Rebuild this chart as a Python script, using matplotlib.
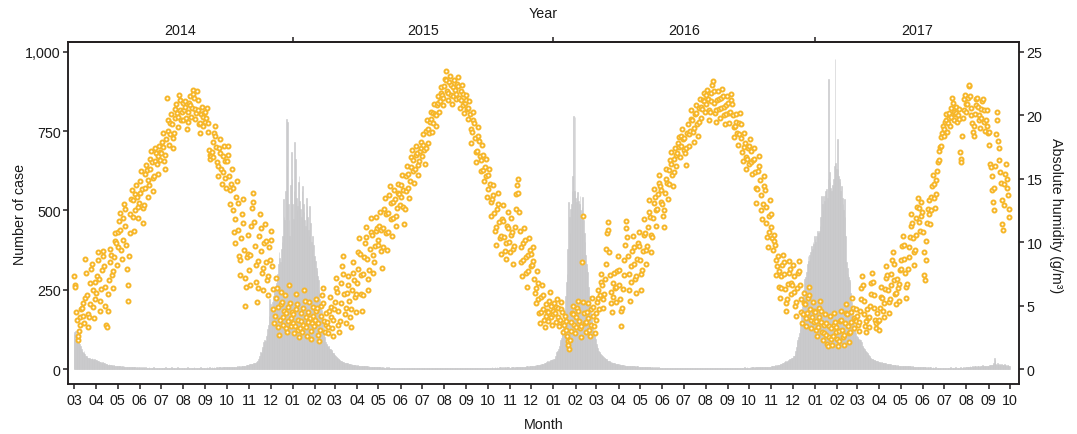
import numpy as np
import pandas as pd
import matplotlib
matplotlib.use('Agg')
from matplotlib import pyplot as plt
import matplotlib.dates as mdates

# Daily case counts, one list per month (2014 starts in March, 2017 ends in September)
cases_2014 = [
    [110, 116, 120, 105, 112, 98, 95, 88, 80, 72, 64, 58, 55, 52, 56, 48, 42, 40, 38, 36, 35, 33, 36, 32, 30, 34, 31, 29, 32, 30, 28],
    [27, 25, 24, 26, 22, 21, 23, 20, 19, 21, 18, 17, 19, 16, 15, 17, 14, 13, 15, 13, 12, 14, 12, 11, 12, 10, 11, 10, 9, 10],
    [9, 10, 8, 9, 8, 7, 9, 8, 7, 8, 7, 6, 7, 7, 6, 7, 6, 5, 6, 6, 5, 6, 5, 5, 6, 5, 4, 5, 5, 4, 5],
    [5, 4, 5, 4, 4, 5, 4, 4, 5, 4, 4, 3, 4, 5, 4, 4, 3, 4, 4, 5, 4, 3, 4, 4, 3, 4, 4, 3, 4, 4],
    [4, 3, 4, 4, 3, 4, 5, 4, 3, 4, 4, 3, 4, 4, 5, 4, 3, 4, 3, 4, 4, 3, 4, 5, 4, 3, 4, 4, 3, 4, 4],
    [3, 4, 4, 3, 4, 4, 5, 4, 3, 4, 4, 3, 4, 3, 4, 5, 4, 4, 3, 4, 4, 3, 4, 4, 5, 4, 3, 4, 4, 3, 4],
    [4, 4, 5, 4, 3, 4, 5, 4, 4, 5, 4, 4, 5, 4, 4, 5, 5, 4, 5, 4, 5, 5, 4, 5, 6, 5, 5, 6, 5, 5],
    [5, 6, 5, 6, 6, 5, 6, 7, 6, 6, 7, 6, 7, 7, 6, 8, 7, 8, 8, 7, 9, 8, 9, 10, 9, 11, 10, 12, 13, 12, 14],
    [14, 15, 16, 15, 17, 16, 18, 17, 20, 19, 22, 24, 26, 30, 36, 42, 54, 50, 62, 70, 85, 78, 92, 88, 104, 110, 125, 140, 168, 221],
    [205, 195, 190, 210, 230, 240, 252, 245, 270, 285, 300, 330, 369, 350, 337, 380, 400, 420, 536, 480, 470, 560, 789, 640, 778, 520, 470, 420, 580, 684, 600],
]
cases_2015 = [
    [520, 473, 560, 716, 662, 540, 500, 514, 590, 609, 530, 505, 480, 560, 577, 520, 495, 470, 450, 540, 514, 480, 440, 420, 514, 460, 400, 380, 420, 390, 357],
    [357, 340, 320, 310, 293, 280, 250, 221, 200, 185, 170, 148, 130, 115, 100, 85, 80, 75, 70, 72, 66, 64, 63, 60, 56, 52, 50, 48],
    [45, 41, 38, 36, 34, 32, 30, 28, 26, 24, 22, 23, 21, 20, 19, 20, 18, 17, 18, 16, 15, 16, 15, 14, 15, 13, 14, 12, 13, 12, 11],
    [11, 12, 10, 11, 10, 9, 10, 9, 9, 8, 9, 8, 8, 9, 7, 8, 7, 8, 7, 7, 6, 7, 6, 7, 6, 6, 5, 6, 6, 5],
    [5, 6, 5, 5, 4, 5, 5, 4, 5, 4, 4, 5, 4, 4, 5, 4, 4, 3, 4, 4, 3, 4, 4, 3, 4, 3, 4, 3, 3, 4, 3],
    [4, 3, 4, 4, 3, 4, 3, 4, 4, 3, 4, 4, 3, 4, 3, 4, 4, 3, 4, 4, 3, 4, 3, 4, 4, 3, 4, 4, 3, 4],
    [3, 4, 4, 3, 4, 3, 4, 4, 3, 4, 4, 3, 4, 3, 4, 4, 3, 4, 4, 3, 4, 3, 4, 4, 3, 4, 4, 3, 4, 3, 4],
    [4, 3, 4, 4, 3, 4, 4, 3, 4, 3, 4, 4, 3, 4, 4, 3, 4, 3, 4, 4, 3, 4, 4, 3, 4, 3, 4, 4, 3, 4, 4],
    [3, 4, 4, 3, 4, 4, 3, 4, 4, 4, 3, 4, 4, 3, 4, 4, 4, 3, 4, 4, 4, 3, 4, 4, 4, 3, 4, 4, 4, 4],
    [4, 4, 3, 4, 4, 4, 5, 4, 4, 4, 5, 4, 4, 5, 4, 4, 5, 4, 5, 4, 4, 5, 4, 5, 5, 4, 5, 4, 5, 5, 4],
    [4, 4, 5, 4, 5, 5, 4, 5, 5, 6, 5, 5, 6, 5, 6, 6, 5, 6, 7, 6, 7, 6, 7, 8, 7, 8, 7, 8, 9, 8],
    [9, 10, 9, 11, 10, 12, 11, 12, 13, 12, 14, 13, 15, 14, 16, 15, 17, 16, 18, 20, 19, 22, 21, 24, 23, 26, 25, 28, 27, 30, 29],
]
cases_2016 = [
    [32, 30, 36, 42, 54, 50, 58, 64, 72, 85, 90, 98, 110, 125, 148, 165, 190, 230, 274, 300, 380, 527, 480, 430, 505, 520, 560, 610, 798, 560, 795],
    [540, 527, 545, 558, 530, 520, 546, 500, 480, 510, 543, 470, 430, 400, 360, 330, 320, 306, 260, 230, 211, 190, 170, 148, 130, 115, 105, 100, 95],
    [80, 72, 65, 58, 54, 50, 46, 44, 42, 40, 38, 36, 34, 32, 30, 28, 26, 25, 24, 22, 21, 20, 22, 19, 18, 19, 17, 16, 17, 15, 16],
    [15, 14, 15, 13, 14, 12, 13, 12, 11, 12, 11, 10, 11, 10, 10, 9, 10, 9, 9, 8, 9, 8, 8, 9, 7, 8, 7, 8, 7, 7],
    [7, 6, 7, 6, 6, 7, 5, 6, 6, 5, 6, 5, 5, 6, 5, 5, 4, 5, 5, 4, 5, 4, 4, 5, 4, 4, 5, 4, 4, 4, 4],
    [4, 4, 3, 4, 4, 3, 4, 4, 3, 4, 3, 4, 4, 3, 4, 4, 3, 4, 3, 4, 4, 3, 4, 4, 3, 4, 3, 4, 4, 3],
    [4, 3, 4, 4, 3, 4, 4, 3, 4, 3, 4, 4, 3, 4, 4, 3, 4, 3, 4, 4, 3, 4, 4, 3, 4, 4, 3, 4, 3, 4, 4],
    [3, 4, 4, 3, 4, 3, 4, 4, 3, 4, 4, 3, 4, 3, 4, 4, 3, 4, 4, 3, 4, 3, 4, 4, 3, 4, 4, 3, 4, 4, 3],
    [4, 4, 3, 4, 4, 4, 3, 4, 4, 4, 3, 4, 4, 4, 3, 4, 4, 4, 4, 3, 4, 4, 4, 5, 4, 4, 4, 5, 4, 4],
    [4, 5, 4, 5, 4, 5, 5, 4, 5, 5, 5, 4, 5, 5, 6, 5, 5, 6, 5, 6, 6, 5, 6, 6, 7, 6, 6, 7, 7, 6, 7],
    [8, 9, 10, 9, 11, 10, 12, 11, 13, 12, 14, 13, 15, 16, 15, 17, 18, 20, 22, 21, 24, 23, 26, 25, 28, 30, 29, 32, 34, 33],
    [36, 40, 41, 48, 56, 70, 85, 92, 100, 112, 126, 150, 189, 200, 220, 250, 284, 270, 290, 306, 330, 357, 340, 360, 347, 370, 388, 380, 400, 395, 420],
]
cases_2017 = [
    [410, 400, 420, 435, 415, 430, 435, 450, 480, 546, 520, 500, 546, 530, 550, 560, 568, 540, 600, 915, 620, 590, 570, 560, 580, 577, 600, 640, 978, 650, 631],
    [725, 631, 610, 600, 590, 560, 577, 540, 520, 500, 536, 480, 420, 337, 320, 300, 290, 280, 274, 240, 210, 190, 167, 150, 135, 125, 115, 104],
    [100, 98, 95, 92, 96, 90, 85, 73, 70, 66, 63, 60, 58, 54, 50, 47, 44, 41, 38, 36, 32, 32, 30, 29, 28, 27, 26, 25, 24, 23, 22],
    [22, 21, 20, 21, 19, 20, 18, 19, 17, 18, 16, 17, 16, 15, 16, 14, 15, 14, 13, 14, 13, 12, 13, 12, 11, 12, 11, 11, 10, 11],
    [10, 10, 9, 10, 9, 9, 10, 8, 9, 8, 8, 9, 8, 7, 8, 7, 8, 7, 7, 6, 7, 6, 7, 6, 6, 7, 6, 5, 6, 5, 6],
    [5, 5, 6, 5, 5, 4, 5, 5, 4, 5, 4, 5, 4, 4, 5, 4, 4, 4, 5, 4, 4, 3, 4, 4, 4, 3, 4, 4, 3, 4],
    [4, 4, 3, 4, 4, 4, 3, 4, 4, 5, 4, 4, 4, 3, 4, 4, 5, 4, 4, 4, 3, 4, 4, 5, 4, 4, 4, 5, 4, 4, 5],
    [5, 6, 5, 7, 6, 8, 6, 7, 9, 7, 6, 8, 10, 8, 7, 9, 11, 8, 7, 9, 8, 10, 12, 9, 8, 10, 9, 11, 9, 8, 10],
    [10, 12, 11, 13, 14, 12, 15, 18, 35, 28, 16, 14, 18, 15, 13, 16, 14, 12, 15, 13, 12, 14, 16, 13, 12, 11, 13, 12, 11, 10],
]

# Daily absolute humidity (g/m3), same month layout
hum_2014 = [
    [7.3, 6.6, 6.5, 4.5, 3.9, 2.3, 2.6, 3.0, 3.5, 4.1, 4.7, 4.8, 5.2, 4.2, 3.6, 5.6, 8.7, 7.6, 5.8, 4.3, 3.3, 4.1, 5.1, 6.8, 7.9, 8.3, 6.2, 4.9, 4.0, 5.5, 6.9],
    [6.0, 7.3, 8.6, 9.2, 7.1, 5.4, 4.6, 6.3, 7.8, 8.9, 9.3, 8.1, 6.5, 5.0, 3.5, 3.3, 4.6, 5.9, 7.0, 8.4, 9.5, 9.0, 7.4, 6.4, 7.7, 8.8, 10.1, 10.7, 9.9, 8.2],
    [9.6, 10.8, 11.7, 12.3, 11.0, 9.4, 8.7, 10.2, 11.9, 13.0, 12.6, 11.3, 9.8, 7.9, 5.4, 6.6, 8.9, 10.7, 12.2, 13.4, 14.1, 13.3, 12.0, 10.9, 12.5, 13.8, 14.5, 13.6, 12.8, 11.9, 13.1],
    [13.9, 14.8, 15.6, 14.2, 12.7, 11.5, 12.9, 14.3, 15.4, 16.1, 15.7, 14.9, 13.6, 14.5, 15.8, 16.6, 17.2, 16.3, 15.1, 14.0, 15.2, 16.4, 17.4, 17.0, 16.2, 15.4, 16.8, 17.6, 17.1, 16.5],
    [17.0, 17.9, 18.6, 17.5, 16.4, 15.8, 16.9, 18.1, 21.4, 19.6, 18.8, 17.7, 18.5, 19.4, 20.1, 19.3, 18.2, 17.4, 18.6, 19.8, 20.5, 20.9, 20.2, 19.1, 19.9, 21.6, 21.2, 20.4, 19.6, 20.3, 21.0],
    [19.6, 20.4, 21.1, 20.7, 19.8, 18.9, 19.5, 20.3, 21.0, 21.5, 20.8, 19.9, 20.6, 22.0, 21.7, 21.4, 20.5, 19.7, 20.2, 21.9, 21.2, 20.4, 19.3, 18.6, 19.4, 20.1, 20.7, 19.9, 19.2, 20.2, 19.5],
    [20.3, 19.8, 20.6, 19.4, 18.7, 17.3, 16.9, 16.6, 16.8, 17.1, 16.7, 17.9, 18.6, 19.2, 18.4, 17.5, 16.3, 15.2, 16.0, 17.4, 18.1, 17.0, 15.8, 14.6, 15.5, 16.8, 17.6, 16.4, 15.1, 14.3],
    [16.4, 17.6, 16.9, 15.2, 14.1, 13.0, 14.6, 15.8, 14.3, 12.5, 10.8, 9.9, 11.8, 13.6, 14.8, 13.1, 11.0, 8.9, 7.4, 8.6, 10.3, 12.2, 13.4, 11.5, 9.4, 7.2, 5.0, 6.5, 8.8, 10.6, 9.1],
    [7.8, 6.6, 9.0, 11.3, 12.7, 13.9, 13.2, 11.6, 9.7, 8.2, 6.9, 5.3, 6.4, 8.5, 10.5, 12.2, 11.1, 9.3, 7.6, 6.2, 8.0, 9.9, 11.4, 10.1, 8.4, 7.0, 5.8, 7.3, 9.6, 8.6],
    [10.9, 10.2, 8.1, 6.3, 4.7, 3.6, 4.2, 5.6, 7.2, 6.4, 4.9, 3.3, 2.7, 3.9, 5.1, 6.1, 5.3, 4.1, 3.5, 4.6, 5.8, 4.4, 3.2, 2.9, 3.8, 4.9, 6.6, 5.2, 4.0, 3.4, 4.5],
]
hum_2015 = [
    [4.3, 3.6, 2.8, 3.4, 4.7, 5.9, 5.1, 3.9, 3.1, 2.5, 3.2, 4.4, 3.8, 2.9, 3.5, 4.8, 6.2, 5.4, 4.1, 3.3, 2.6, 3.7, 4.5, 5.3, 4.0, 3.0, 2.4, 3.6, 4.9, 4.2, 3.4],
    [3.9, 4.6, 5.5, 4.8, 3.6, 2.7, 2.2, 3.1, 4.2, 5.0, 5.8, 6.4, 5.2, 3.8, 2.9, 3.5, 4.4, 3.7, 2.8, 3.3, 4.6, 5.7, 4.9, 4.1, 3.2, 2.6, 3.9, 4.7],
    [5.3, 6.4, 7.2, 6.1, 4.6, 3.5, 2.9, 3.8, 5.2, 6.8, 8.1, 8.9, 7.5, 5.9, 4.3, 3.6, 4.8, 6.0, 7.3, 6.6, 5.4, 4.1, 3.3, 4.7, 6.2, 7.6, 8.4, 7.0, 5.7, 4.5, 5.9],
    [6.8, 7.9, 9.2, 10.3, 9.1, 7.4, 5.9, 4.6, 5.8, 7.5, 8.8, 9.9, 11.2, 10.4, 8.7, 7.1, 6.2, 7.8, 9.5, 10.8, 11.9, 10.6, 9.0, 7.6, 8.4, 9.7, 10.9, 12.0, 11.1, 9.8],
    [10.2, 11.3, 12.4, 11.0, 9.3, 8.0, 9.6, 11.1, 12.6, 13.5, 12.2, 10.7, 9.4, 10.8, 12.3, 13.7, 14.4, 13.1, 11.8, 10.5, 11.9, 13.2, 14.1, 13.4, 12.1, 11.3, 12.7, 13.9, 14.6, 13.8, 12.9],
    [13.6, 14.5, 15.3, 14.1, 12.8, 11.4, 12.6, 14.0, 15.2, 16.0, 15.4, 14.3, 13.5, 14.8, 15.9, 16.7, 17.3, 16.5, 15.6, 14.7, 15.8, 16.9, 17.6, 17.0, 16.1, 15.3, 16.4, 17.2, 17.9, 17.4],
    [16.8, 17.7, 18.5, 17.3, 16.2, 17.4, 18.8, 19.6, 18.9, 17.8, 18.6, 19.5, 20.3, 19.7, 18.7, 19.4, 20.2, 20.9, 20.1, 19.2, 20.0, 20.8, 21.5, 21.0, 20.3, 21.1, 21.8, 22.2, 21.6, 20.8, 21.4],
    [22.3, 22.9, 23.5, 22.8, 21.9, 21.2, 21.8, 22.6, 23.1, 22.4, 21.6, 20.9, 21.5, 22.2, 22.8, 22.0, 21.3, 21.7, 22.5, 23.0, 22.3, 21.4, 20.6, 21.2, 21.9, 22.4, 21.7, 20.8, 20.2, 21.0, 21.6],
    [21.2, 20.5, 19.7, 20.6, 21.1, 20.1, 18.9, 17.8, 18.7, 19.6, 20.3, 19.4, 18.2, 17.1, 16.3, 17.2, 18.4, 19.1, 18.0, 16.8, 15.6, 16.5, 17.7, 16.9, 15.7, 14.8, 15.9, 16.6, 15.2, 13.6],
    [14.2, 15.3, 15.8, 14.6, 13.2, 12.1, 13.4, 14.5, 13.7, 12.3, 10.9, 9.8, 11.2, 12.6, 13.9, 13.0, 11.6, 10.3, 9.1, 10.5, 11.8, 12.9, 11.7, 10.4, 9.3, 8.7, 9.9, 11.3, 12.4, 11.1, 10.0],
    [9.2, 10.6, 11.9, 10.8, 9.5, 8.3, 9.7, 11.2, 12.6, 13.8, 14.5, 15.0, 13.9, 12.4, 10.9, 9.6, 8.4, 7.3, 8.6, 9.9, 11.1, 10.2, 8.8, 7.6, 6.5, 7.7, 9.0, 10.3, 9.4, 8.1],
    [9.1, 8.2, 9.6, 8.5, 7.1, 6.0, 5.2, 6.4, 7.7, 6.8, 5.5, 4.4, 3.6, 4.5, 5.7, 6.6, 5.8, 4.7, 3.9, 3.3, 4.2, 5.1, 4.6, 3.8, 4.5, 5.4, 6.1, 5.0, 4.1, 3.5, 4.3],
]
hum_2016 = [
    [4.6, 5.2, 4.4, 3.7, 4.9, 5.5, 4.8, 4.1, 3.4, 3.9, 4.7, 5.3, 4.5, 3.6, 2.9, 3.5, 4.2, 3.8, 3.1, 2.6, 2.2, 1.9, 1.6, 2.3, 3.0, 3.7, 4.4, 5.0, 4.3, 3.5, 2.8],
    [3.3, 4.1, 4.8, 5.4, 4.6, 3.8, 3.2, 2.5, 3.4, 8.4, 12.1, 5.3, 4.4, 3.6, 2.9, 3.7, 4.5, 5.2, 4.0, 3.1, 2.6, 3.5, 4.7, 5.6, 4.9, 4.2, 3.4, 2.8, 3.9],
    [4.4, 5.3, 6.2, 5.6, 4.7, 5.8, 6.9, 7.5, 6.6, 5.5, 4.8, 5.9, 7.1, 8.3, 9.5, 10.7, 11.6, 11.0, 9.2, 7.4, 6.1, 5.2, 4.5, 5.7, 6.8, 7.6, 6.4, 5.3, 6.5, 7.7, 8.9],
    [7.8, 6.6, 5.5, 4.6, 3.4, 4.8, 6.3, 7.4, 8.6, 9.8, 11.1, 11.7, 10.4, 8.9, 7.5, 6.2, 5.4, 6.9, 8.1, 9.3, 10.5, 9.6, 8.3, 7.1, 6.0, 7.3, 8.7, 9.9, 10.8, 9.7],
    [8.6, 7.5, 6.2, 7.8, 9.3, 10.6, 11.8, 10.7, 9.4, 8.3, 9.7, 11.2, 12.4, 13.3, 12.0, 10.6, 9.2, 10.4, 11.9, 13.1, 14.2, 13.6, 12.5, 11.3, 12.6, 13.8, 14.7, 15.3, 14.4, 13.2, 14.1],
    [13.0, 12.1, 11.2, 12.5, 13.9, 15.0, 15.8, 14.7, 13.4, 14.6, 15.7, 16.5, 17.1, 16.2, 15.3, 14.4, 15.5, 16.6, 17.4, 16.9, 16.0, 17.0, 17.8, 18.3, 17.5, 16.7, 17.6, 18.4, 18.9, 18.1],
    [17.3, 18.2, 17.0, 16.1, 17.4, 18.6, 19.3, 18.5, 17.6, 18.8, 19.7, 20.4, 19.6, 18.7, 17.9, 19.0, 20.1, 20.8, 20.2, 19.3, 18.4, 19.5, 20.6, 21.3, 20.7, 19.8, 20.5, 21.2, 21.8, 21.1, 20.3],
    [20.9, 21.6, 22.0, 21.3, 20.4, 19.6, 20.3, 21.1, 21.8, 22.4, 22.7, 21.9, 21.0, 20.2, 19.5, 20.4, 21.2, 21.9, 21.3, 20.5, 19.8, 20.6, 21.4, 22.1, 21.5, 20.7, 20.0, 19.3, 20.1, 20.8, 21.5],
    [21.0, 20.2, 19.4, 20.3, 21.2, 21.7, 20.9, 20.0, 19.1, 18.3, 19.2, 20.1, 19.5, 18.6, 17.7, 18.5, 19.4, 20.2, 19.3, 18.2, 17.1, 16.4, 17.5, 18.6, 17.8, 16.7, 15.8, 16.6, 17.4, 16.2],
    [17.6, 18.1, 17.2, 16.3, 15.4, 16.5, 17.4, 16.6, 15.5, 14.3, 13.1, 14.2, 15.6, 16.8, 16.0, 14.9, 13.7, 12.5, 11.8, 13.0, 14.4, 15.2, 14.1, 12.8, 11.5, 10.4, 9.6, 10.8, 12.1, 13.3, 12.2],
    [11.2, 10.3, 9.4, 10.1, 10.6, 9.8, 8.6, 7.4, 8.1, 8.9, 7.7, 6.5, 5.6, 6.4, 7.3, 8.2, 9.0, 8.4, 7.5, 6.3, 5.2, 4.6, 5.5, 6.7, 7.6, 8.5, 7.9, 6.8, 5.9, 6.6],
    [8.2, 7.3, 6.1, 5.0, 4.2, 5.3, 6.4, 7.6, 8.5, 7.7, 6.6, 5.5, 4.5, 3.6, 4.3, 5.2, 6.0, 5.1, 4.0, 3.4, 4.4, 5.6, 6.5, 5.8, 4.7, 3.9, 3.2, 4.1, 5.3, 4.6, 3.7],
]
hum_2017 = [
    [4.5, 3.8, 3.1, 2.6, 3.3, 4.1, 4.8, 5.4, 4.6, 3.7, 2.9, 2.3, 2.8, 3.5, 4.3, 3.6, 2.7, 2.0, 1.8, 2.5, 3.4, 4.2, 3.2, 2.4, 1.9, 2.6, 3.5, 4.4, 3.7, 2.9, 3.3],
    [2.4, 1.8, 2.2, 3.0, 3.8, 4.6, 3.9, 3.1, 2.5, 1.9, 2.7, 3.6, 4.4, 5.1, 4.3, 3.4, 2.8, 2.1, 2.9, 3.7, 4.5, 5.6, 4.8, 4.0, 3.2, 3.9, 4.7, 3.8],
    [4.2, 3.5, 3.0, 3.7, 4.6, 5.5, 6.4, 7.3, 6.6, 5.4, 4.3, 3.4, 2.9, 3.8, 4.7, 4.0, 3.3, 4.1, 5.0, 5.9, 6.8, 7.6, 6.9, 5.8, 4.8, 3.9, 3.2, 3.6, 4.4, 3.8, 3.1],
    [3.9, 4.8, 5.7, 6.5, 5.6, 4.6, 4.1, 5.2, 6.3, 7.2, 8.1, 7.4, 6.2, 5.3, 4.4, 5.5, 6.6, 7.5, 8.6, 9.2, 8.3, 7.0, 5.9, 5.1, 6.0, 7.1, 6.4, 5.4, 6.7, 7.8],
    [7.9, 8.6, 9.7, 10.5, 9.8, 8.7, 7.6, 6.5, 5.6, 6.7, 7.9, 8.8, 9.6, 10.4, 11.3, 12.2, 11.5, 10.3, 9.2, 8.2, 9.4, 10.6, 11.9, 12.8, 13.5, 12.7, 11.6, 10.9, 12.1, 13.2, 12.4],
    [10.8, 9.2, 7.4, 7.0, 8.6, 10.1, 11.5, 12.6, 13.3, 12.2, 11.4, 12.5, 13.6, 14.4, 15.3, 14.6, 13.5, 12.7, 13.8, 14.9, 15.6, 16.3, 17.2, 16.5, 17.5, 18.3, 17.6, 18.6, 19.2, 18.4],
    [18.9, 19.5, 20.1, 19.6, 18.7, 19.4, 20.2, 19.8, 19.2, 19.9, 20.6, 21.4, 21.0, 20.3, 19.6, 20.1, 20.7, 20.2, 19.5, 20.0, 20.5, 19.7, 17.1, 16.6, 16.3, 18.4, 19.8, 20.4, 21.3, 21.6, 20.9],
    [20.3, 20.9, 21.4, 22.3, 22.4, 21.5, 20.6, 20.0, 19.4, 18.7, 18.4, 19.2, 20.1, 20.8, 21.3, 21.4, 20.7, 20.0, 19.6, 19.0, 19.8, 20.5, 21.1, 21.3, 20.4, 19.5, 18.8, 19.6, 20.4, 19.2, 18.6],
    [18.7, 17.7, 16.2, 15.9, 15.2, 14.1, 13.2, 12.5, 14.3, 16.0, 18.5, 20.3, 19.6, 18.0, 17.4, 16.5, 15.5, 14.7, 13.3, 11.4, 11.0, 12.9, 14.6, 15.4, 16.2, 15.0, 14.3, 13.7, 12.6, 12.0],
]

year_labels = ['2014', '2015', '2016', '2017']


def to_daily(year, first_month, months):
    # one list per month -> (dates, values), each list starts on the 1st
    dates, vals = [], []
    for i, m in enumerate(months):
        start = pd.Timestamp(year=year, month=first_month + i, day=1)
        m = m[:start.days_in_month]
        dates.extend(start + pd.to_timedelta(np.arange(len(m)), unit='D'))
        vals.extend(m)
    return dates, vals


case_dates, case_vals = [], []
hum_dates, hum_vals = [], []
for yr, fm, c, h in [(2014, 3, cases_2014, hum_2014), (2015, 1, cases_2015, hum_2015),
                     (2016, 1, cases_2016, hum_2016), (2017, 1, cases_2017, hum_2017)]:
    d, v = to_daily(yr, fm, c)
    case_dates += d
    case_vals += v
    d, v = to_daily(yr, fm, h)
    hum_dates += d
    hum_vals += v

plt.rcParams['font.family'] = ['Liberation Sans', 'DejaVu Sans']
plt.rcParams['font.size'] = 10.3
ink = '#231f20'
bar_grey = '#c8c8ca'

fig = plt.figure(figsize=(10.77, 4.35), dpi=100)
ax = fig.add_axes([68 / 1077, 1 - 385 / 435, 951.3 / 1077, 342 / 435])

# daily bars; edge in the same grey so neighbouring days close up
ax.bar(case_dates, case_vals, width=1.0, color=bar_grey, edgecolor=bar_grey,
       linewidth=0.4, zorder=1)

x0 = mdates.date2num(pd.Timestamp('2014-03-01')) - 8.4
x1 = mdates.date2num(pd.Timestamp('2017-10-01')) + 12.9
ax.set_xlim(x0, x1)
ax.set_ylim(-47.3, 1031.5)
ax.set_yticks([0, 250, 500, 750, 1000])
ax.set_yticklabels(['0', '250', '500', '750', '1,000'])

ax.xaxis.set_major_locator(mdates.MonthLocator())
ax.xaxis.set_major_formatter(mdates.DateFormatter('%m'))
ax.tick_params(axis='x', length=3.6, width=1.1, pad=2.7, colors=ink, labelcolor='#1a1a1a')
ax.tick_params(axis='y', length=3.8, width=1.1, pad=1.5, colors=ink, labelcolor='#1a1a1a')

ax2 = ax.twinx()
ax2.scatter(hum_dates, hum_vals, s=8.5, facecolors='white', edgecolors='#f6b628',
            linewidths=1.4, zorder=3)
ax2.set_ylim(-47.3 * 0.025, 1031.5 * 0.025)
ax2.set_yticks([0, 5, 10, 15, 20, 25])
ax2.tick_params(axis='y', length=3.8, width=1.1, pad=1.5, colors=ink, labelcolor='#1a1a1a')

for a in (ax, ax2):
    for s in a.spines.values():
        s.set_linewidth(1.1)
        s.set_color(ink)

# year axis on top
bounds = [mdates.date2num(pd.Timestamp(f'{y}-01-01')) for y in (2015, 2016, 2017)]
edges = [x0] + bounds + [x1]
mids = [(edges[i] + edges[i + 1]) / 2 for i in range(4)]
top = ax.secondary_xaxis('top')
top.set_xticks(bounds, labels=['', '', ''])
top.set_xticks(mids, labels=year_labels, minor=True)
top.tick_params(which='major', length=3.6, width=1.1, colors=ink)
top.tick_params(which='minor', length=0, pad=3.6, labelcolor='#1a1a1a')
top.spines['top'].set_linewidth(1.1)
top.spines['top'].set_color(ink)

fig.text(543.6 / 1077, 1 - 14 / 435, 'Year', ha='center', va='center', color='#1a1a1a')
fig.text(543.6 / 1077, 1 - 425 / 435, 'Month', ha='center', va='center', color='#1a1a1a')
fig.text(20 / 1077, 1 - 214 / 435, 'Number of case', rotation=90, ha='center', va='center', color='#1a1a1a')
fig.text(1056 / 1077, 1 - 216 / 435, 'Absolute humidity (g/m³)', rotation=270, ha='center', va='center', color='#1a1a1a')

fig.savefig('out.png', dpi=100)
